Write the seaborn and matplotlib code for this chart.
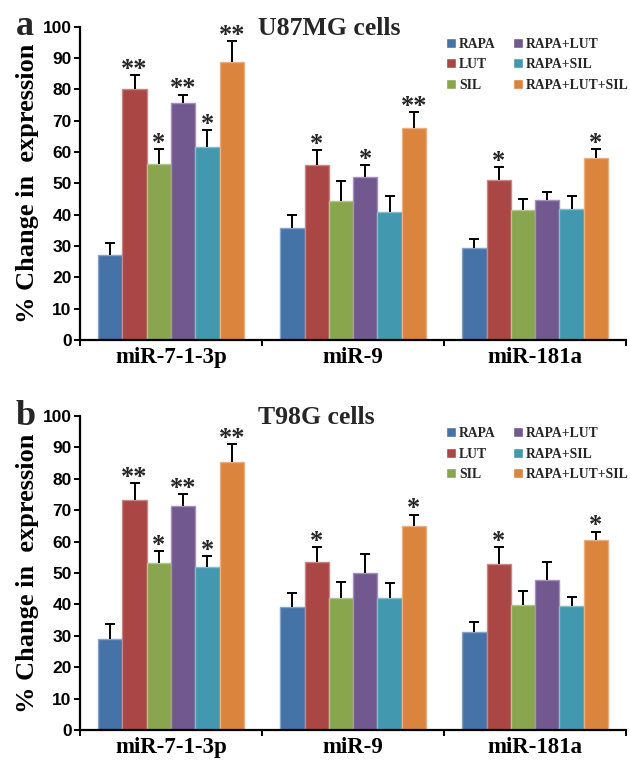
import matplotlib

matplotlib.use("Agg")

import matplotlib.pyplot as plt
import matplotlib.colors as mcolors
import numpy as np
import pandas as pd
import seaborn as sns

mirnas = ["miR-7-1-3p", "miR-9", "miR-181a"]
treatments = ["RAPA", "LUT", "SIL", "RAPA+LUT", "RAPA+SIL", "RAPA+LUT+SIL"]
colors = ["#4572A7", "#AA4643", "#89A54E", "#71588F", "#4198AF", "#DB843D"]

# rows = miRNA, columns = treatment
u87_mean = [[27.0, 80.0, 56.2, 75.5, 61.6, 88.7],
            [35.8, 55.7, 44.4, 51.9, 40.7, 67.8],
            [29.3, 51.0, 41.4, 44.8, 41.9, 58.1]]
u87_err = [[4.0, 4.5, 4.8, 2.8, 5.4, 6.6],
           [4.0, 4.8, 6.2, 3.8, 5.3, 4.8],
           [2.9, 4.2, 3.7, 2.4, 4.0, 2.9]]
u87_sig = [["", "**", "*", "**", "*", "**"],
           ["", "*", "", "*", "", "**"],
           ["", "*", "", "", "", "*"]]

t98_mean = [[28.9, 73.2, 53.3, 71.5, 52.0, 85.4],
            [39.1, 53.6, 42.0, 50.0, 42.0, 65.0],
            [31.2, 52.9, 39.9, 47.9, 39.6, 60.4]]
t98_err = [[4.8, 5.4, 3.6, 3.7, 3.3, 5.7],
           [4.6, 4.6, 5.3, 6.2, 4.9, 3.6],
           [3.3, 5.3, 4.5, 5.7, 2.8, 2.8]]
t98_sig = [["", "**", "*", "**", "*", "**"],
           ["", "*", "", "", "", "*"],
           ["", "*", "", "", "", "*"]]

sns.set_theme(style="white")
plt.rcParams["font.family"] = ["Liberation Serif", "DejaVu Serif"]
plt.rcParams["font.weight"] = "bold"

SERIF = "Liberation Serif"
SANS = "Liberation Sans"


def lighter(color, amount=0.35):
    rgb = np.array(mcolors.to_rgb(color))
    return tuple(rgb + (1 - rgb) * amount)


def draw_panel(ax, means, errs, sigs, cell_name, letter):
    df = pd.DataFrame({
        "miRNA": np.repeat(mirnas, len(treatments)),
        "treatment": treatments * len(mirnas),
        "value": np.ravel(means),
    })
    sns.barplot(data=df, x="miRNA", y="value", hue="treatment", order=mirnas,
                hue_order=treatments, palette=colors, width=0.8, saturation=1,
                errorbar=None, ax=ax)

    err_arr = np.array(errs)
    bar_containers = list(ax.containers)
    for k, container in enumerate(bar_containers):
        xs, tops = [], []
        for bar in container.patches:
            bar.set_edgecolor(lighter(colors[k]))
            bar.set_linewidth(1.0)
            xs.append(bar.get_x() + bar.get_width() / 2)
            tops.append(bar.get_height())
        xs = np.array(xs)
        tops = np.array(tops)
        e = err_arr[:, k]
        eb = ax.errorbar(xs, tops, yerr=[np.zeros_like(e), e], fmt="none",
                         ecolor="black", elinewidth=1.4, capsize=3.5,
                         capthick=1.4, zorder=3)
        eb[1][0].set_visible(False)
        for j in range(len(xs)):
            s = sigs[j][k]
            if s:
                ax.annotate(s, (xs[j], tops[j] + e[j]), xytext=(0, -0.5),
                            textcoords="offset points", ha="center",
                            va="baseline", fontsize=19, fontweight="bold",
                            family=SERIF)

    ax.set_xlim(-0.5, 2.5)
    ax.set_ylim(0, 100)
    ax.set_yticks(np.arange(0, 101, 10))
    ax.set_xticks([-0.5, 0.5, 1.5, 2.5], minor=True)
    ax.tick_params(axis="x", which="major", length=0, pad=5)
    ax.tick_params(axis="x", which="minor", length=4, width=1.4,
                   color="black", direction="out", bottom=True)
    ax.tick_params(axis="y", length=4, width=1.4, color="black",
                   direction="out", left=True, pad=2)
    for lab in ax.get_yticklabels():
        lab.set_family(SANS)
        lab.set_fontweight("bold")
        lab.set_fontsize(12.5)
        lab.set_color("black")
    for lab in ax.get_xticklabels():
        lab.set_family(SERIF)
        lab.set_fontweight("bold")
        lab.set_fontsize(16.5)
        lab.set_color("black")
    sns.despine(ax=ax)
    for side in ("left", "bottom"):
        ax.spines[side].set_color("black")
        ax.spines[side].set_linewidth(1.6)
    ax.set_xlabel("")
    ax.set_ylabel("% Change in  expression", fontsize=19, fontweight="bold",
                  family=SERIF, color="black", labelpad=3)

    handles, labels = ax.get_legend_handles_labels()
    ax.legend(handles, labels, ncol=2, loc="upper right",
              bbox_to_anchor=(1.005, 0.965), frameon=False, borderpad=0,
              borderaxespad=0, handlelength=0.75, handleheight=0.75,
              handletextpad=0.2, columnspacing=1.3, labelspacing=0.55,
              prop={"family": SERIF, "weight": "bold", "size": 9.8})

    ax.text(0.325, 0.995, cell_name, transform=ax.transAxes, ha="left",
            va="center", fontsize=18.5, fontweight="bold", family=SERIF)
    ax.text(-0.118, 1.0, letter, transform=ax.transAxes, ha="left",
            va="center", fontsize=26, fontweight="bold", family=SERIF)


fig = plt.figure(figsize=(6.3, 7.62), dpi=100)
ax_top = fig.add_axes([0.127, 0.554, 0.867, 0.411])
ax_bot = fig.add_axes([0.127, 0.042, 0.867, 0.412])

draw_panel(ax_top, u87_mean, u87_err, u87_sig, "U87MG cells", "a")
draw_panel(ax_bot, t98_mean, t98_err, t98_sig, "T98G cells", "b")

fig.savefig("out.png", dpi=100)
